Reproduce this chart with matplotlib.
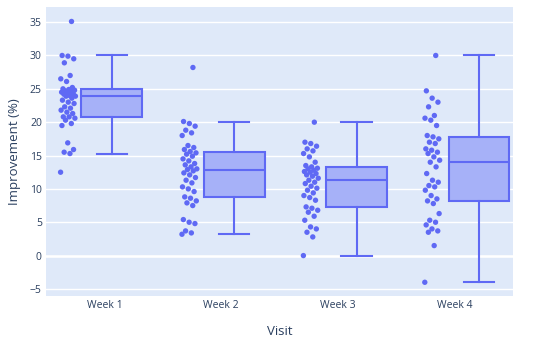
import numpy as np
import matplotlib.pyplot as plt

# Data (improvement in %, per visit)
weeks = ['Week 1', 'Week 2', 'Week 3', 'Week 4']

week1 = [12.5, 15.3, 15.5, 15.9, 16.9, 19.5, 19.8, 20.3, 20.6, 20.8, 20.8,
         21.3, 21.5, 21.8, 22.1, 22.3, 22.8, 23.0, 23.3, 23.6, 23.9, 23.9,
         24.0, 24.2, 24.3, 24.4, 24.5, 24.6, 24.7, 24.8, 24.9, 25.0, 25.2,
         26.1, 26.5, 27.0, 28.9, 29.5, 29.9, 30.0, 35.1]
week2 = [3.2, 3.4, 3.7, 4.8, 5.0, 5.4, 7.5, 7.9, 8.2, 8.6, 8.8, 9.6, 10.0,
         10.3, 10.9, 11.3, 11.7, 12.1, 12.4, 12.7, 12.9, 13.0, 13.3, 13.6,
         13.8, 14.2, 14.5, 14.9, 15.2, 15.4, 15.6, 15.9, 16.2, 16.5, 18.0,
         18.4, 18.8, 19.4, 19.8, 20.1, 28.2]
week3 = [0.0, 2.8, 3.5, 4.0, 4.3, 5.3, 5.9, 6.5, 6.8, 7.1, 7.3, 8.3, 8.7,
         9.0, 9.4, 9.8, 10.1, 10.4, 10.8, 11.0, 11.3, 11.6, 11.9, 12.1, 12.3,
         12.5, 12.6, 12.8, 13.0, 13.1, 13.3, 13.5, 14.0, 14.8, 15.3, 15.7,
         16.0, 16.4, 16.8, 17.0, 20.0]
week4 = [-4.0, 1.5, 3.5, 3.7, 4.0, 4.6, 5.0, 5.3, 6.3, 7.8, 8.2, 8.5, 9.0,
         9.8, 10.3, 10.5, 11.0, 11.3, 12.3, 13.3, 14.0, 14.3, 14.8, 15.3,
         15.5, 15.8, 16.0, 16.8, 17.0, 17.5, 17.8, 18.0, 19.5, 20.3, 20.6,
         21.0, 22.3, 23.0, 23.6, 24.7, 30.0]

data = [week1, week2, week3, week4]

BLUE = '#5f69f4'
BG = '#dfe9f9'
TEXT = '#2a3f5f'

plt.rcParams['font.family'] = ['Open Sans', 'DejaVu Sans']

fig = plt.figure(figsize=(5.5, 3.39), dpi=100)
ax = fig.add_axes([0.0836, 0.127, 0.849, 0.852])
ax.set_facecolor(BG)

idx = np.arange(len(weeks))
box_pos = 0.063 + 1.049 * idx
pts_pos = -0.31 + 1.04 * idx

ax.boxplot(data, positions=box_pos, widths=0.52, patch_artist=True,
           showfliers=False, whis=1.5, capwidths=0.26,
           boxprops=dict(facecolor='#a6b1f8', edgecolor=BLUE, linewidth=1.5),
           medianprops=dict(color=BLUE, linewidth=1.5),
           whiskerprops=dict(color=BLUE, linewidth=1.5),
           capprops=dict(color=BLUE, linewidth=1.5), zorder=3)

# deterministic jitter for the "all points" strip
for i, vals in enumerate(data):
    k = np.arange(len(vals))
    jit = ((k * 0.6180339) % 1 - 0.5) * 0.13
    ax.scatter(pts_pos[i] + jit, vals, s=15, color=BLUE, edgecolors='none',
               zorder=4)

ax.set_xlim(-0.5, 3.5)
ax.set_ylim(-6.05, 37.25)
ax.set_yticks(range(-5, 36, 5))
ax.set_xticks(idx)
ax.set_xticklabels(weeks)
ax.grid(axis='y', color='white', linewidth=1)
ax.axhline(0, color='white', linewidth=1.8, zorder=1)
ax.set_axisbelow(True)
for s in ax.spines.values():
    s.set_visible(False)
ax.tick_params(length=0, labelsize=7.5, colors=TEXT, pad=3)
ax.set_xlabel('Visit', fontsize=9.5, color=TEXT, labelpad=10)
ax.set_ylabel('Improvement (%)', fontsize=9.5, color=TEXT, labelpad=6)

fig.savefig('out.png', dpi=100)
